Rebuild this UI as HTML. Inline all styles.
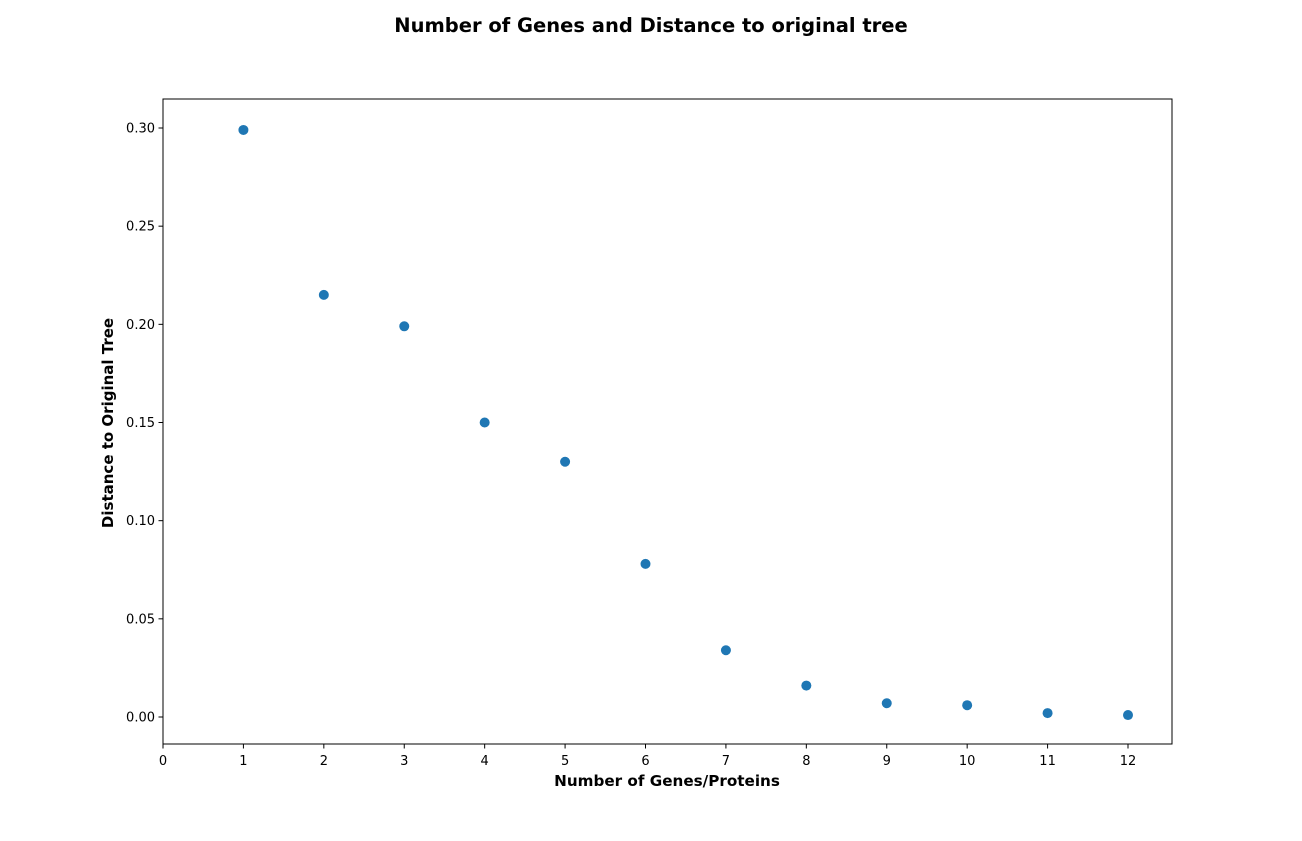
<!DOCTYPE html>
<html><head><meta charset="utf-8">
<style>
body{margin:0;background:#fff;font-family:"Liberation Sans","DejaVu Sans",sans-serif;}
svg text{font-family:"DejaVu Sans","Liberation Sans",sans-serif;}
</style></head>
<body>
<svg id="chart" width="1302" height="836" xmlns="http://www.w3.org/2000/svg">
<text x="651" y="32" text-anchor="middle" font-size="19.5" font-weight="bold">Number of Genes and Distance to original tree</text>
<rect x="163" y="99" width="1009" height="645" fill="none" stroke="#000" stroke-width="1"/>
<g id="xticks"></g>
<g id="yticks"></g>
<g id="points"></g>
<text x="667" y="786" text-anchor="middle" font-size="15.2" font-weight="bold">Number of Genes/Proteins</text>
<text transform="translate(113,423) rotate(-90)" text-anchor="middle" font-size="15" font-weight="bold">Distance to Original Tree</text>
</svg>
<script>
const genes = [1,2,3,4,5,6,7,8,9,10,11,12];
const distances = [0.299,0.215,0.199,0.150,0.130,0.078,0.034,0.016,0.007,0.006,0.002,0.001];
const xTickValues = [0,1,2,3,4,5,6,7,8,9,10,11,12];
const yTickValues = [0,0.05,0.10,0.15,0.20,0.25,0.30];
const yTickLabels = ["0.00","0.05","0.10","0.15","0.20","0.25","0.30"];

const NS="http://www.w3.org/2000/svg";
function xs(v){return 163+v*(1128-163)/12;}
function ys(v){return 717-v*(717-128)/0.30;}
function mk(tag,attrs,parent){const e=document.createElementNS(NS,tag);for(const k in attrs)e.setAttribute(k,attrs[k]);parent.appendChild(e);return e;}

const xg=document.getElementById('xticks');
xTickValues.forEach(v=>{
  const l=mk('line',{x1:xs(v),x2:xs(v),y1:744,y2:748.5,stroke:'#000'},xg);
  
  
  const t=mk('text',{x:xs(v),y:765,'text-anchor':'middle','font-size':'13'},xg);
  t.textContent=v;
  
  
});
const yg=document.getElementById('yticks');
yTickValues.forEach((v,i)=>{
  const l=mk('line',{x1:158.5,x2:163,y1:ys(v),y2:ys(v),stroke:'#000'},yg);
  
  
  const t=mk('text',{x:155,y:ys(v)+4.5,'text-anchor':'end','font-size':'13'},yg);
  t.textContent=yTickLabels[i];
  
  
});
const pg=document.getElementById('points');
genes.forEach((g,i)=>{
  const c=mk('circle',{cx:xs(g),cy:ys(distances[i]),r:5,fill:'#1f77b4'},pg);
  
  
});
</script>
</body></html>
